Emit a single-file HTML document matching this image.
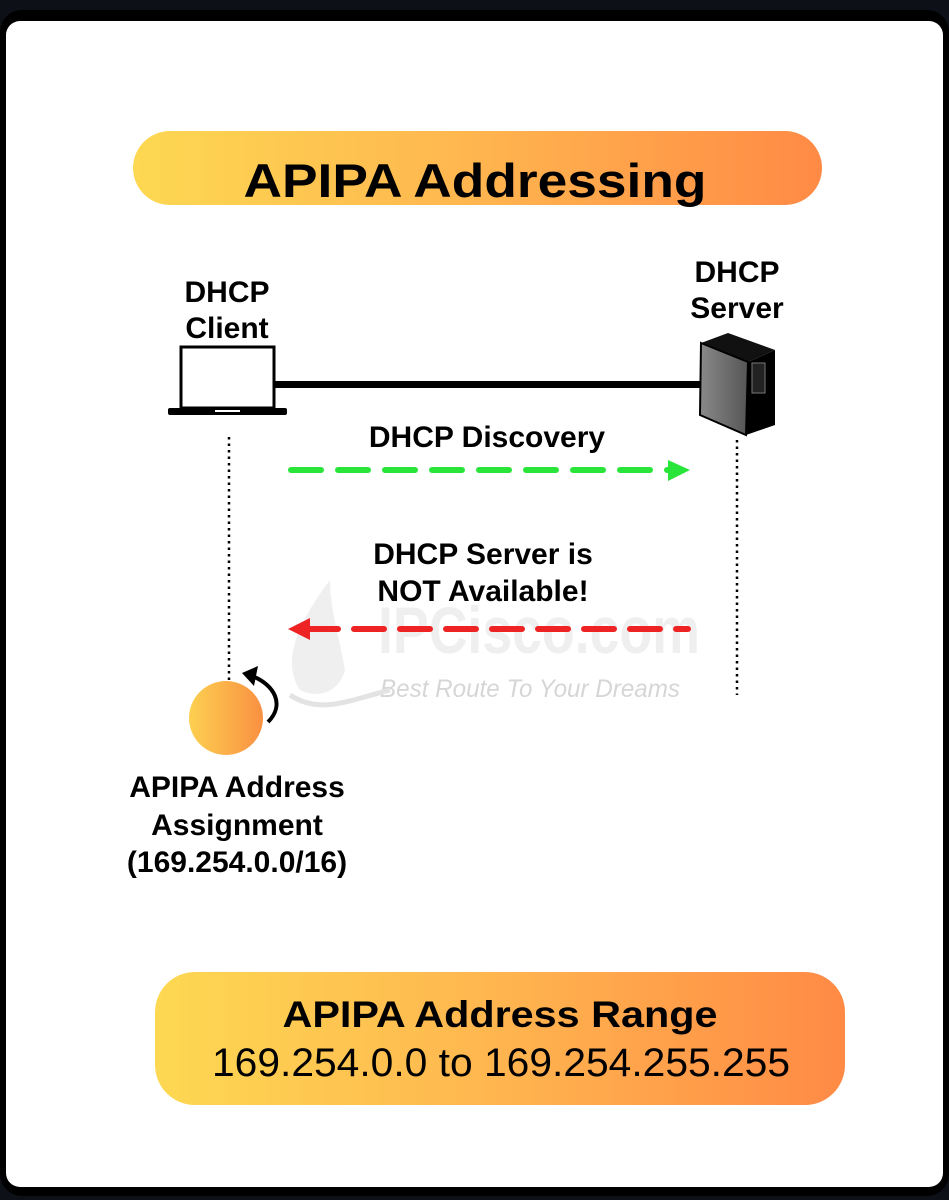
<!DOCTYPE html>
<html><head><meta charset="utf-8"><style>
html,body{margin:0;padding:0;background:#0d1117;}
svg{display:block;}
text{font-family:"Liberation Sans",Arial,sans-serif;}
</style></head><body>
<svg width="949" height="1200" viewBox="0 0 949 1200" xmlns="http://www.w3.org/2000/svg">
<defs>
<linearGradient id="g" x1="0" x2="1" y1="0" y2="0">
<stop offset="0" stop-color="#fdd852"/><stop offset="0.5" stop-color="#ffb54f"/><stop offset="1" stop-color="#ff8a45"/>
</linearGradient>
<linearGradient id="gc" x1="0" x2="1" y1="0" y2="0">
<stop offset="0" stop-color="#fdd050"/><stop offset="1" stop-color="#f99042"/>
</linearGradient>
<linearGradient id="sv" x1="0" x2="1">
<stop offset="0" stop-color="#8a8a8a"/><stop offset="1" stop-color="#555"/>
</linearGradient>
</defs>
<rect x="0" y="0" width="949" height="1200" fill="#0d1117"/>
<rect x="0" y="10" width="949" height="1186" rx="22" fill="#000"/>
<rect x="6" y="21" width="937" height="1166" rx="14" fill="#fff"/>

<!-- title -->
<rect x="133" y="131" width="689" height="74" rx="37" fill="url(#g)"/>
<text x="475" y="197" font-size="47" font-weight="bold" text-anchor="middle" textLength="463" lengthAdjust="spacingAndGlyphs" fill="#000">APIPA Addressing</text>

<!-- watermark -->
<text x="378" y="653" font-size="66" font-weight="bold" fill="#efefef" textLength="322" lengthAdjust="spacingAndGlyphs">IPCisco.com</text>
<text x="380" y="697" font-size="25" font-style="italic" fill="#d6d6d6" textLength="300" lengthAdjust="spacingAndGlyphs">Best Route To Your Dreams</text>
<path d="M330 580 C300 620 280 660 300 690 C320 700 340 690 345 670 C340 640 330 610 330 580Z" fill="#efefef"/>
<path d="M290 695 C320 715 350 700 390 690" stroke="#e3e3e3" stroke-width="5" fill="none"/>

<!-- labels -->
<g font-size="30" font-weight="bold" text-anchor="middle" fill="#000">
<text x="227" y="302">DHCP</text><text x="227" y="338">Client</text>
<text x="737" y="282">DHCP</text><text x="737" y="318">Server</text>
<text x="487" y="447">DHCP Discovery</text>
<text x="483" y="564">DHCP Server is</text><text x="483" y="601">NOT Available!</text>
<text x="237" y="797">APIPA Address</text>
<text x="237" y="835">Assignment</text>
<text x="237" y="872">(169.254.0.0/16)</text>
</g>

<!-- laptop -->
<rect x="181" y="347" width="93" height="61" fill="#fff" stroke="#000" stroke-width="3"/>
<rect x="168" y="408" width="119" height="7" rx="2" fill="#000"/>
<rect x="215" y="410" width="25" height="2" fill="#fff"/>
<!-- link -->
<rect x="275" y="381" width="425" height="7" fill="#000"/>

<!-- server -->
<path d="M701 343 L728 333 L775 350 L748 362 Z" fill="#111"/>
<path d="M701 343 L748 362 L746 435 L700 415 Z" fill="url(#sv)" stroke="#000" stroke-width="2"/>
<path d="M748 362 L775 350 L775 425 L746 435 Z" fill="#000"/>
<rect x="752" y="363" width="13" height="30" fill="#222" stroke="#777" stroke-width="1"/>

<!-- dotted lifelines -->
<line x1="229" y1="437" x2="229" y2="682" stroke="#000" stroke-width="2.5" stroke-dasharray="2.5 4"/>
<line x1="737" y1="440" x2="737" y2="695" stroke="#000" stroke-width="2.5" stroke-dasharray="2.5 4"/>

<!-- green arrow -->
<line x1="291" y1="470" x2="670" y2="470" stroke="#29e53a" stroke-width="6" stroke-linecap="round" stroke-dasharray="30 17"/>
<path d="M668 460 L690 470 L668 481 Z" fill="#29e53a"/>
<!-- red arrow -->
<line x1="308" y1="629" x2="688" y2="629" stroke="#ee2424" stroke-width="6" stroke-linecap="round" stroke-dasharray="30 16"/>
<path d="M310 618 L288 629 L310 640 Z" fill="#ee2424"/>

<!-- circle & curved arrow -->
<circle cx="226" cy="718" r="37" fill="url(#gc)"/>
<path d="M268 722 C285 705 275 685 252 676" stroke="#000" stroke-width="4" fill="none"/>
<path d="M242 673 L258 666 L254 686 Z" fill="#000"/>

<!-- bottom pill -->
<rect x="155" y="972" width="690" height="133" rx="40" fill="url(#g)"/>
<text x="500" y="1027" font-size="37" font-weight="bold" text-anchor="middle" textLength="435" lengthAdjust="spacingAndGlyphs" fill="#000">APIPA Address Range</text>
<text x="501" y="1076" font-size="40" text-anchor="middle" textLength="578" lengthAdjust="spacingAndGlyphs" fill="#000">169.254.0.0 to 169.254.255.255</text>
</svg>
</body></html>
